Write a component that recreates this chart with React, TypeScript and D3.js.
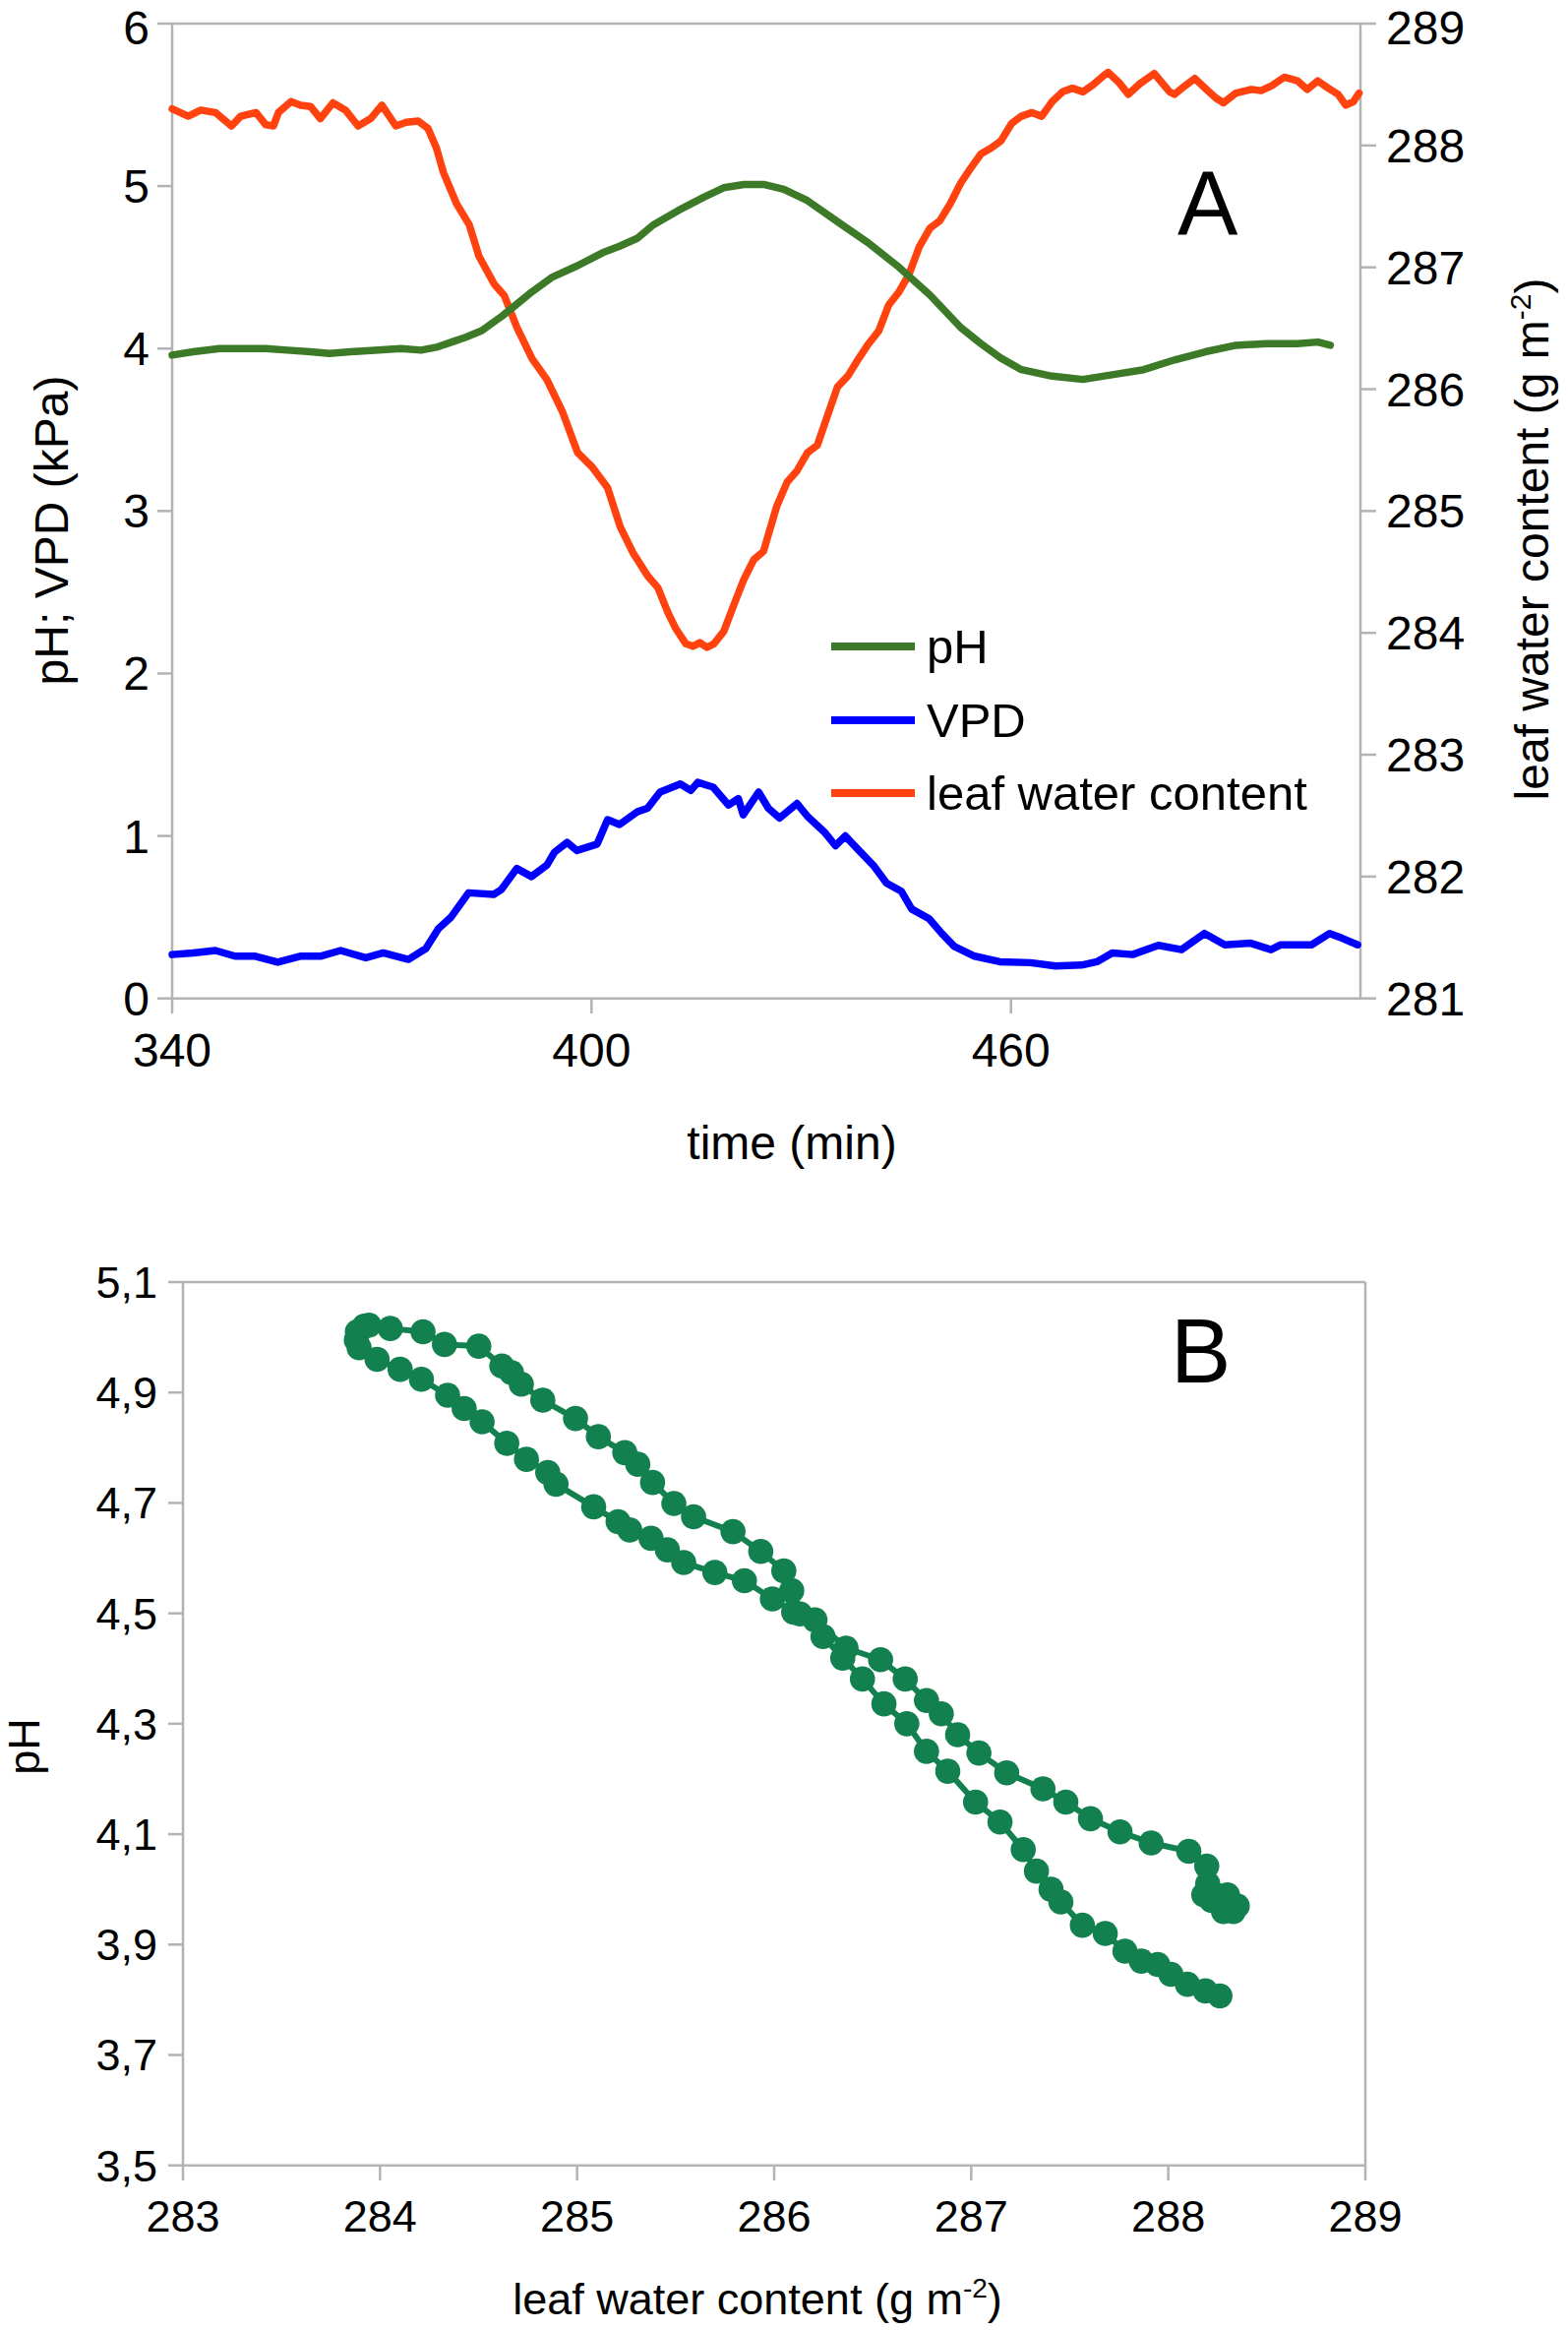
import React from "react";
import * as d3 from "d3";

// ---------- Panel A data ----------
const lwcTime = [340,342.3,344.1,346.2,348.5,349.8,352,353.4,354.5,355.2,357,358.4,359.8,361.2,363,364.8,366.6,368.4,370,372,373.5,375.2,376.6,377.8,378.8,380.7,382.5,383.9,386.1,387.5,389.3,391.5,393.6,395.8,398,400.1,402.3,404.1,405.9,408,409.5,410.9,412,413.5,414.5,415.5,416.5,417.5,418.9,420.7,421.8,423.2,424.6,426.5,428,429.4,430.9,432.3,433.8,435.2,436.7,438.2,439.6,441.1,442.5,444,445.4,446.9,448.4,449.8,451.3,452.8,454.2,455.7,457.2,458.6,460.1,461.5,463,464.4,465.9,467.4,468.8,470.3,471.8,473.2,473.9,475.4,476.8,478.3,480.5,482.7,483.4,484.9,486.3,487.8,489.3,490.4,492.2,494.4,495.8,497.3,499.1,501,502.4,503.9,505.4,506.8,507.9,509,509.8];
const lwcValues = [288.30,288.24,288.29,288.27,288.16,288.24,288.27,288.17,288.16,288.27,288.36,288.33,288.32,288.22,288.35,288.29,288.16,288.22,288.33,288.16,288.19,288.2,288.14,287.98,287.78,287.52,287.35,287.09,286.86,286.77,286.51,286.25,286.08,285.82,285.48,285.36,285.19,284.87,284.66,284.47,284.37,284.17,284.04,283.91,283.89,283.92,283.88,283.91,284.01,284.28,284.44,284.60,284.67,285.04,285.24,285.33,285.48,285.54,285.79,286.02,286.11,286.25,286.37,286.48,286.69,286.80,286.94,287.17,287.32,287.38,287.52,287.69,287.81,287.93,287.98,288.04,288.18,288.24,288.27,288.24,288.36,288.44,288.47,288.44,288.50,288.57,288.60,288.52,288.42,288.50,288.59,288.44,288.42,288.49,288.55,288.47,288.39,288.35,288.43,288.46,288.45,288.49,288.56,288.53,288.46,288.53,288.47,288.42,288.33,288.36,288.43];

const phTime = [340,343,346.8,350,353.4,356.5,359.8,362.5,365.5,369,372.7,375.6,378,380,382,384.3,387.2,389.5,391.5,394.4,398,401.6,404,406.6,408.8,412.4,416,418.9,421.8,424.6,427.5,430.9,435.2,439.6,444,448.4,452.8,455.7,458.6,461.5,465.9,470.3,474.7,479,483.4,487.8,492.2,496.6,501,503.9,505.7];
const phValues = [3.96,3.98,4.00,4.00,4.00,3.99,3.98,3.97,3.98,3.99,4.00,3.99,4.01,4.04,4.07,4.11,4.20,4.28,4.35,4.44,4.51,4.59,4.63,4.68,4.76,4.85,4.93,4.99,5.01,5.01,4.98,4.91,4.78,4.65,4.50,4.33,4.13,4.03,3.94,3.87,3.83,3.81,3.84,3.87,3.93,3.98,4.02,4.03,4.03,4.04,4.02];

const vpdTime = [340,343,346.2,349,351.9,355.1,358.3,361.2,364.1,367.7,370.2,373.8,376.3,378.1,379.9,382.4,386,387.1,389.3,391.4,393.6,394.7,396.5,397.9,400.8,402.3,404,406.6,408,409.8,412.7,414.2,415.2,417.4,419.6,421,421.7,423.9,425.3,426.9,429.4,430.9,433.4,434.9,436.3,438.5,440.3,442.2,444.3,445.8,448.3,450.1,451.9,454.8,458.4,462.8,466.4,470.1,472.3,474.5,477.4,481.1,484.4,487.7,490.6,494.3,497.2,498.6,503,505.6,507.4,509.6];
const vpdValues = [0.27,0.28,0.295,0.26,0.26,0.223,0.26,0.26,0.295,0.25,0.28,0.24,0.307,0.43,0.50,0.65,0.64,0.67,0.80,0.75,0.82,0.90,0.96,0.91,0.95,1.10,1.07,1.15,1.17,1.27,1.32,1.28,1.33,1.30,1.19,1.23,1.13,1.27,1.17,1.11,1.20,1.12,1.02,0.94,1.00,0.90,0.82,0.71,0.66,0.55,0.49,0.40,0.32,0.26,0.226,0.22,0.20,0.205,0.226,0.28,0.27,0.327,0.30,0.40,0.33,0.34,0.30,0.33,0.33,0.40,0.37,0.33];

const timeTicks = [340, 400, 460];
const leftTicks = [0, 1, 2, 3, 4, 5, 6];
const rightTicks = [281, 282, 283, 284, 285, 286, 287, 288, 289];
const legendLabels = ["pH", "VPD", "leaf water content"];

// ---------- Panel B data (leaf water content vs pH, in time order) ----------
const loopLwc = [288.30,288.33,288.28,288.35,288.24,288.30,288.22,288.28,288.18,288.20,288.195,288.104,287.913,287.755,287.605,287.480,287.364,287.180,287.039,286.931,286.848,286.773,286.665,286.540,286.365,286.207,286.099,285.991,285.849,285.699,285.541,285.458,285.375,285.267,285.208,285.084,284.893,284.851,284.743,284.643,284.518,284.427,284.343,284.210,284.102,283.985,283.894,283.88,283.885,283.92,283.944,284.052,284.218,284.327,284.501,284.618,284.667,284.717,284.826,284.992,285.108,285.242,285.308,285.383,285.491,285.591,285.791,285.932,286.049,286.089,286.131,286.248,286.348,286.448,286.557,286.673,286.773,286.881,287.022,287.146,287.264,287.331,287.405,287.455,287.564,287.680,287.780,287.863,287.946,288.013,288.097,288.188,288.262];
const loopPh = [3.97,3.96,3.98,3.97,3.99,3.99,3.98,3.96,3.99,4.01,4.042,4.069,4.084,4.104,4.128,4.158,4.182,4.211,4.247,4.280,4.318,4.342,4.381,4.416,4.437,4.488,4.502,4.526,4.559,4.574,4.592,4.615,4.636,4.651,4.666,4.693,4.734,4.755,4.779,4.808,4.847,4.871,4.895,4.924,4.942,4.960,4.981,4.995,5.010,5.02,5.022,5.016,5.010,4.987,4.984,4.948,4.936,4.915,4.886,4.853,4.820,4.791,4.770,4.737,4.699,4.675,4.648,4.612,4.577,4.541,4.499,4.458,4.419,4.381,4.336,4.300,4.250,4.214,4.158,4.122,4.072,4.033,4.000,3.977,3.935,3.920,3.888,3.870,3.864,3.846,3.828,3.816,3.807];
const lwcTicks = [283, 284, 285, 286, 287, 288, 289];
const phTicks = [3.5, 3.7, 3.9, 4.1, 4.3, 4.5, 4.7, 4.9, 5.1];

const FONT = "'Liberation Sans', Arial, sans-serif";
const AXIS = "#b3b3b3";
const C_PH = "#3d7a27";
const C_VPD = "#0000ff";
const C_LWC = "#ff420e";
const C_B = "#13804f";

export default function App() {
  // Panel A scales
  const xA = d3.scaleLinear().domain([340, 510]).range([175, 1383]);
  const yL = d3.scaleLinear().domain([0, 6]).range([1014.7, 24]);
  const yR = d3.scaleLinear().domain([281, 289]).range([1014.7, 24]);

  const lineL = d3.line<[number, number]>().x(d => xA(d[0])).y(d => yL(d[1]));
  const lineR = d3.line<[number, number]>().x(d => xA(d[0])).y(d => yR(d[1]));

  const phPath = lineL(phTime.map((t, i) => [t, phValues[i]]) as [number, number][]) || "";
  const vpdPath = lineL(vpdTime.map((t, i) => [t, vpdValues[i]]) as [number, number][]) || "";
  const lwcPath = lineR(lwcTime.map((t, i) => [t, lwcValues[i]]) as [number, number][]) || "";

  // Panel B scales
  const xB = d3.scaleLinear().domain([283, 289]).range([186, 1388]);
  const yB = d3.scaleLinear().domain([3.5, 5.1]).range([2200.7, 1303]);
  const loopPts = loopLwc.map((w, i) => [w, loopPh[i]] as [number, number]);
  const lineB = d3.line<[number, number]>().x(d => xB(d[0])).y(d => yB(d[1]));
  const loopPath = lineB(loopPts) || "";

  const legendColors = [C_PH, C_VPD, C_LWC];
  const legendY = [657, 732, 806];
  const tickBase = (y: number) => Math.max(y + 17, 45);

  return (
    <svg
      width={1594}
      height={2368}
      style={{ position: "absolute", left: 0, top: 0, background: "#fff" }}
      fontFamily={FONT}
    >
      <rect x={0} y={0} width={1594} height={2368} fill="#fff" />
      {/* ================= Panel A ================= */}
      <g>
        <line x1={175} x2={1383} y1={24} y2={24} stroke={AXIS} strokeWidth={2.5} />
        <line x1={175} x2={175} y1={24} y2={1014.7} stroke={AXIS} strokeWidth={2.5} />
        <line x1={1383} x2={1383} y1={24} y2={1014.7} stroke={AXIS} strokeWidth={2.5} />
        <line x1={175} x2={1383} y1={1014.7} y2={1014.7} stroke={AXIS} strokeWidth={2.5} />
        {leftTicks.map(v => (
          <g key={"l" + v}>
            <line x1={160} x2={175} y1={yL(v)} y2={yL(v)} stroke={AXIS} strokeWidth={2.5} />
            <text x={152} y={tickBase(yL(v))} textAnchor="end" fontSize={48} fill="#000">{v}</text>
          </g>
        ))}
        {rightTicks.map(v => (
          <g key={"r" + v}>
            <line x1={1383} x2={1399} y1={yR(v)} y2={yR(v)} stroke={AXIS} strokeWidth={2.5} />
            <text x={1409} y={tickBase(yR(v))} textAnchor="start" fontSize={48} fill="#000">{v}</text>
          </g>
        ))}
        {timeTicks.map(t => (
          <g key={"t" + t}>
            <line x1={xA(t)} x2={xA(t)} y1={1014.7} y2={1030} stroke={AXIS} strokeWidth={2.5} />
            <text x={xA(t)} y={1084} textAnchor="middle" fontSize={48} fill="#000">{t}</text>
          </g>
        ))}
        <text x={805} y={1178} textAnchor="middle" fontSize={48} fill="#000">time (min)</text>
        <text transform="translate(69,539) rotate(-90)" textAnchor="middle" fontSize={48} fill="#000">pH; VPD (kPa)</text>
        <text transform="translate(1574,548) rotate(-90)" textAnchor="middle" fontSize={48} fill="#000">
          leaf water content (g m<tspan dy={-18} fontSize={30}>-2</tspan><tspan dy={18}>)</tspan>
        </text>

        <path d={lwcPath} fill="none" stroke={C_LWC} strokeWidth={7.5} strokeLinejoin="round" strokeLinecap="round" />
        <path d={phPath} fill="none" stroke={C_PH} strokeWidth={7.5} strokeLinejoin="round" strokeLinecap="round" />
        <path d={vpdPath} fill="none" stroke={C_VPD} strokeWidth={7.5} strokeLinejoin="round" strokeLinecap="round" />

        {legendLabels.map((lab, i) => (
          <g key={lab}>
            <line x1={845} x2={930} y1={legendY[i]} y2={legendY[i]} stroke={legendColors[i]} strokeWidth={8} />
            <text x={942} y={legendY[i] + 17} fontSize={49} fill="#000">{lab}</text>
          </g>
        ))}
        <text x={1197} y={238.5} fontSize={92} fill="#000">A</text>
      </g>

      {/* ================= Panel B ================= */}
      <g>
        <line x1={186} x2={1388} y1={1303} y2={1303} stroke={AXIS} strokeWidth={2.5} />
        <line x1={186} x2={186} y1={1303} y2={2200.7} stroke={AXIS} strokeWidth={2.5} />
        <line x1={1388} x2={1388} y1={1303} y2={2200.7} stroke={AXIS} strokeWidth={2.5} />
        <line x1={186} x2={1388} y1={2200.7} y2={2200.7} stroke={AXIS} strokeWidth={2.5} />
        {phTicks.map(v => (
          <g key={"p" + v}>
            <line x1={171} x2={186} y1={yB(v)} y2={yB(v)} stroke={AXIS} strokeWidth={2.5} />
            <text x={160} y={yB(v) + 16} textAnchor="end" fontSize={45} fill="#000">{v.toFixed(1).replace(".", ",")}</text>
          </g>
        ))}
        {lwcTicks.map(w => (
          <g key={"w" + w}>
            <line x1={xB(w)} x2={xB(w)} y1={2200.7} y2={2216} stroke={AXIS} strokeWidth={2.5} />
            <text x={xB(w)} y={2268} textAnchor="middle" fontSize={45} fill="#000">{w}</text>
          </g>
        ))}
        <text x={770} y={2352} textAnchor="middle" fontSize={45} fill="#000">
          leaf water content (g m<tspan dy={-17} fontSize={28}>-2</tspan><tspan dy={17}>)</tspan>
        </text>
        <text transform="translate(40,1775) rotate(-90)" textAnchor="middle" fontSize={45} fill="#000">pH</text>

        <path d={loopPath} fill="none" stroke={C_B} strokeWidth={6} strokeLinejoin="round" />
        {loopPts.map((d, i) => (
          <circle key={i} cx={xB(d[0])} cy={yB(d[1])} r={12.8} fill={C_B} />
        ))}
        <text x={1190} y={1404.6} fontSize={92} fill="#000">B</text>
      </g>
    </svg>
  );
}
